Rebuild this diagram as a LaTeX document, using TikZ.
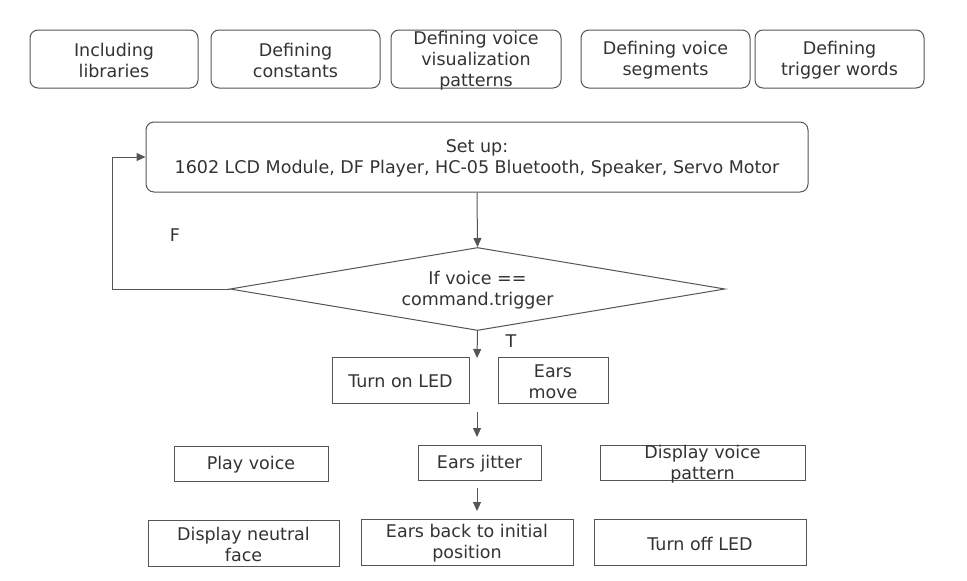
\documentclass[tikz,border=0pt]{standalone}
\usepackage{fontspec}
\setmainfont{DejaVu Sans}
\usetikzlibrary{shapes.geometric,arrows.meta}
\definecolor{ln}{HTML}{555555}
\definecolor{tx}{HTML}{333333}
\tikzset{
  x=1pt,y=-1pt,
  txt/.style={text=tx,align=center,inner sep=0pt,font=\fontsize{17.5}{21}\selectfont},
  rbox/.style={draw=ln,line width=1pt,rounded corners=8pt,inner sep=0pt},
  sbox/.style={draw=ln,line width=1pt,inner sep=0pt},
  arr/.style={draw=ln,line width=1pt,-{Triangle[length=9pt,width=8pt]}},
}
\newcommand{\bx}[7]{% style, name, cx, cy, w, h, text
  \node[#1,minimum width=#5,minimum height=#6] (#2) at (#3,#4) {};
  \node[txt] (#2t) at ([yshift=-1.5pt]#2.center) {#7};}
\begin{document}
\begin{tikzpicture}
\useasboundingbox[fill=white] (0,0) rectangle (967,581);
\bx{rbox}{lib}{114}{59}{168pt}{58pt}{Including\\libraries}
\bx{rbox}{con}{295.5}{59}{169pt}{58pt}{Defining\\constants}
\bx{rbox}{vis}{476}{59}{170pt}{58pt}{Defining voice\\visualization\\patterns}
\bx{rbox}{seg}{665.5}{59}{169pt}{58pt}{Defining voice\\segments}
\bx{rbox}{trg}{839.5}{59}{169pt}{58pt}{Defining\\trigger words}
\bx{rbox}{set}{477}{157}{662pt}{70pt}{Set up:\\1602 LCD Module, DF Player, HC-05 Bluetooth, Speaker, Servo Motor}
\node[diamond,draw=ln,line width=1pt,minimum width=495pt,minimum height=83pt,inner sep=0pt] (dec) at (477.5,289) {};
\node[txt] (dect) at (477.5,290.5) {If voice ==\\command.trigger};
\bx{sbox}{led}{400.5}{380}{137pt}{46pt}{Turn on LED}
\bx{sbox}{ear}{553}{380}{110pt}{46pt}{Ears\\move}
\bx{sbox}{ply}{251}{463.5}{154pt}{35pt}{Play voice}
\bx{sbox}{jit}{479.5}{462.5}{123pt}{35pt}{Ears jitter}
\bx{sbox}{pat}{702.5}{462.5}{205pt}{35pt}{Display voice\\pattern}
\bx{sbox}{neu}{243.5}{543}{191pt}{46pt}{Display neutral\\face}
\bx{sbox}{back}{467}{542}{212pt}{46pt}{Ears back to initial\\position}
\bx{sbox}{off}{700}{542}{212pt}{46pt}{Turn off LED}
\node[txt] (fl) at (175,235) {F};
\node[txt] (tl) at (511,341) {T};
\coordinate (ct) at (477,358);
\coordinate (a1s) at (477,412);
\coordinate (a1e) at (477,437);
\coordinate (a2s) at (477,488);
\coordinate (a2e) at (477,511);
\coordinate (lp) at (112,289);
\draw[arr] (set.south) -- (dec.north);
\draw[arr] (dec.west) -- (lp) |- (set.west);
\draw[arr] (dec.south) -- (ct);
\draw[arr] (a1s) -- (a1e);
\draw[arr] (a2s) -- (a2e);
\end{tikzpicture}
\end{document}
